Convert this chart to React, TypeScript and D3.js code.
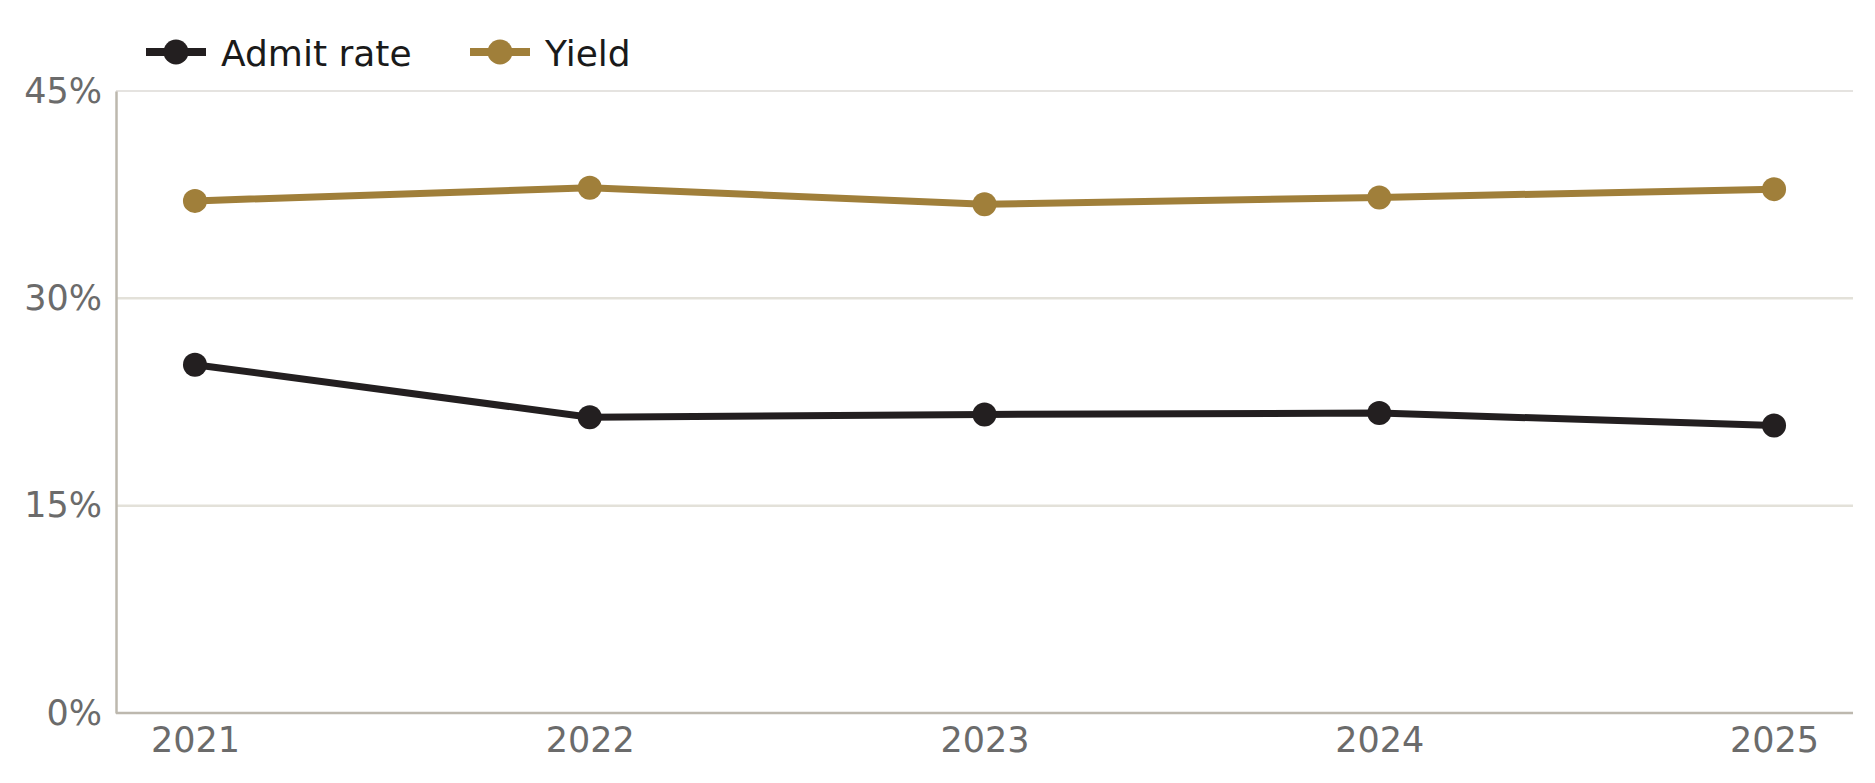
import * as d3 from "d3";
import { useEffect, useRef } from "react";

const years: string[] = ["2021", "2022", "2023", "2024", "2025"];
const admitRate: number[] = [25.2, 21.4, 21.6, 21.7, 20.8];
const yieldRate: number[] = [37.05, 38.0, 36.8, 37.3, 37.9];
const yTicks: number[] = [0, 15, 30, 45];

const seriesNames = ["Admit rate", "Yield"];
const seriesColors = ["#231f20", "#a07f3a"];

export default function App() {
    const ref = useRef<SVGSVGElement | null>(null);
    const width = 1875;
    const height = 783;

    useEffect(() => {
        const margin = { top: 91, right: 22, bottom: 70, left: 116 };
        const svg = d3.select(ref.current);
        svg.selectAll("*").remove();

        const x = d3
            .scalePoint<string>()
            .domain(years)
            .range([margin.left, width - margin.right])
            .padding(0.2);
        const y = d3
            .scaleLinear()
            .domain([0, 45])
            .range([height - margin.bottom, margin.top]);

        const font = "'DejaVu Sans', Verdana, sans-serif";

        // gridlines
        svg.append("g")
            .selectAll("line")
            .data(yTicks.filter((t) => t > 0))
            .join("line")
            .attr("x1", margin.left)
            .attr("x2", width - margin.right)
            .attr("y1", (d) => y(d))
            .attr("y2", (d) => y(d))
            .attr("stroke", (d) => (d === 45 ? "#dcdad6" : "#e3e1d9"))
            .attr("stroke-width", (d) => (d === 45 ? 1.5 : 2.5));

        // y axis
        const yAxis = d3
            .axisLeft(y)
            .tickValues(yTicks)
            .tickSize(0)
            .tickPadding(14)
            .tickFormat((d) => `${d}%`);
        const gy = svg
            .append("g")
            .attr("transform", `translate(${margin.left},0)`)
            .call(yAxis);
        gy.select(".domain").attr("stroke", "#bdb8ae").attr("stroke-width", 2.5);
        gy.selectAll("text")
            .attr("font-family", font)
            .attr("font-size", 35)
            .attr("fill", "#6b6b6b");

        // x axis
        const xAxis = d3.axisBottom(x).tickSize(0).tickPadding(14);
        const gx = svg
            .append("g")
            .attr("transform", `translate(0,${y(0)})`)
            .call(xAxis);
        gx.select(".domain")
            .attr("d", `M${margin.left},0H${width - margin.right}`)
            .attr("stroke", "#bdb8ae")
            .attr("stroke-width", 2.5);
        gx.selectAll("text")
            .attr("font-family", font)
            .attr("font-size", 35)
            .attr("fill", "#6b6b6b");

        const series = [admitRate, yieldRate];
        const line = d3
            .line<number>()
            .x((_, i) => x(years[i]) ?? 0)
            .y((d) => y(d));

        series.forEach((vals, si) => {
            svg.append("path")
                .datum(vals)
                .attr("d", line)
                .attr("fill", "none")
                .attr("stroke", seriesColors[si])
                .attr("stroke-width", 7);
            svg.append("g")
                .selectAll("circle")
                .data(vals)
                .join("circle")
                .attr("cx", (_, i) => x(years[i]) ?? 0)
                .attr("cy", (d) => y(d))
                .attr("r", 12)
                .attr("fill", seriesColors[si]);
        });

        // legend
        const legendX = [146, 470];
        const legendY = 52;
        const lg = svg.append("g");
        seriesNames.forEach((name, i) => {
            lg.append("line")
                .attr("x1", legendX[i])
                .attr("x2", legendX[i] + 60)
                .attr("y1", legendY)
                .attr("y2", legendY)
                .attr("stroke", seriesColors[i])
                .attr("stroke-width", 8);
            lg.append("circle")
                .attr("cx", legendX[i] + 30)
                .attr("cy", legendY)
                .attr("r", 12.5)
                .attr("fill", seriesColors[i]);
            lg.append("text")
                .attr("x", legendX[i] + 75)
                .attr("y", legendY + 14)
                .attr("font-family", font)
                .attr("font-size", 36)
                .attr("fill", "#1a1a1a")
                .text(name);
        });
    }, []);

    return (
        <svg
            ref={ref}
            width={width}
            height={height}
            style={{ position: "absolute", left: 0, top: 0, background: "#fff" }}
        />
    );
}
